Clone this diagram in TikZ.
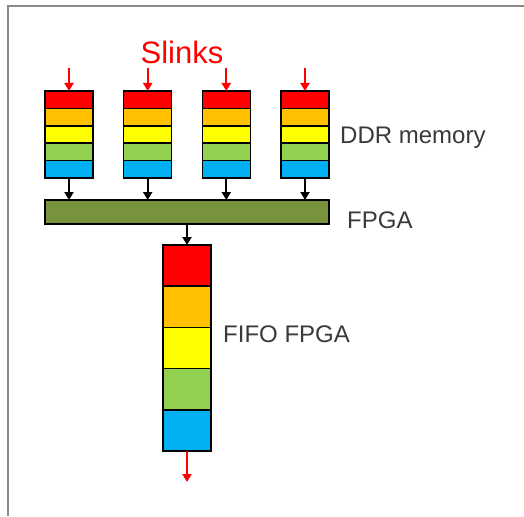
\documentclass[tikz,border=0pt]{standalone}
\usepackage{fontspec}
\setmainfont{Liberation Sans}
\usetikzlibrary{arrows.meta}
\definecolor{cRed}{HTML}{FF0000}
\definecolor{cOrange}{HTML}{FFC000}
\definecolor{cYellow}{HTML}{FFFF00}
\definecolor{cGreen}{HTML}{92D050}
\definecolor{cBlue}{HTML}{00B0F0}
\definecolor{cBar}{HTML}{77933C}
\definecolor{cText}{HTML}{3A3A3A}
\definecolor{cFrame}{HTML}{8A8A8A}
\begin{document}
\begin{tikzpicture}[x=1pt,y=-1pt,
  cell/.style={draw=black,line width=1.5pt,minimum width=48pt,inner sep=0pt,outer sep=0pt,rectangle},
  memcell/.style={cell,minimum height=17.4pt},
  fifocell/.style={cell,minimum height=41.2pt},
  redarrow/.style={draw=cRed,line width=2pt,-{Triangle[length=8pt,width=9pt]}},
  blackarrow/.style={draw=black,line width=2pt,-{Triangle[length=8pt,width=9pt]}},
  label/.style={text=cText,font=\fontsize{24}{28}\selectfont,anchor=base west,inner sep=0pt}]
\useasboundingbox (0,0) rectangle (524,516);
\fill[white] (0,0) rectangle (524,516);
% frame
\draw[cFrame,line width=2pt] (7.5,516) -- (7.5,6) -- (524,6);
% memory columns
\foreach \i/\cx in {1/69,2/147.7,3/226.3,4/305}{
  \foreach \r/\col in {1/cRed,2/cOrange,3/cYellow,4/cGreen,5/cBlue}{
    \node[memcell,fill=\col] (m\i r\r) at (\cx,{91+17.4*(\r-0.5)}) {};
  }
  \coordinate (in\i) at (\cx,68);
  \draw[redarrow] (in\i) -- (m\i r1.north);
}
% FPGA bar
\node[cell,fill=cBar,minimum width=284pt,minimum height=24pt] (fpga) at (187,212) {};
\foreach \i in {1,2,3,4}{
  \draw[blackarrow] (m\i r5.south) -- (m\i r5.south |- fpga.north);
}
% FIFO
\foreach \r/\col in {1/cRed,2/cOrange,3/cYellow,4/cGreen,5/cBlue}{
  \node[fifocell,fill=\col] (f\r) at (187,{245+41.2*(\r-0.5)}) {};
}
\draw[blackarrow] (fpga.south -| f1.north) -- (f1.north);
\coordinate (out) at (187,482);
\draw[redarrow] (f5.south) -- (out);
% labels
\node[text=cRed,font=\fontsize{31}{36}\selectfont,inner sep=0pt,anchor=base] (slinks) at (182,64) {Slinks};
\node[label] (ddr) at (340,143) {DDR memory};
\node[label] (fpgal) at (347,228) {FPGA};
\node[label] (fifol) at (223,342) {FIFO FPGA};
\end{tikzpicture}
\end{document}
